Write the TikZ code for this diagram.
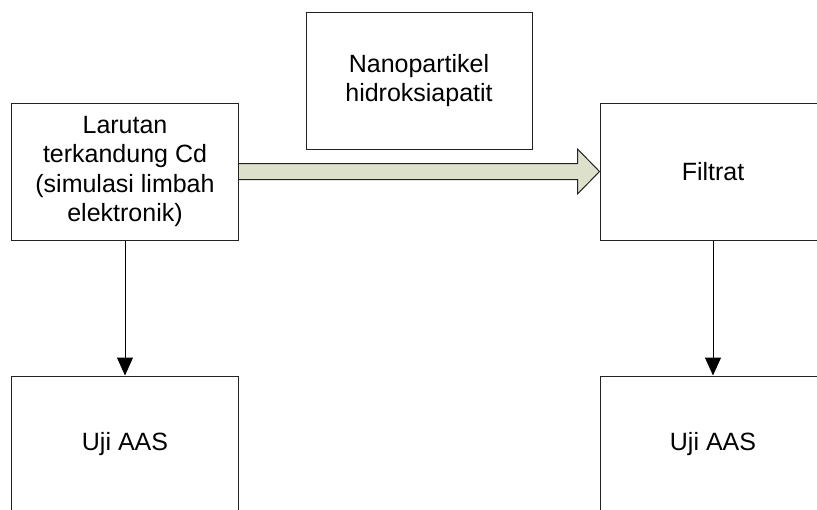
\documentclass[tikz,border=0pt]{standalone}
\usepackage{fontspec}
\setmainfont{Liberation Sans}
\usetikzlibrary{calc,arrows.meta}
\definecolor{arrowfill}{HTML}{DDE1CB}
\definecolor{edge}{HTML}{222222}
\begin{document}
\begin{tikzpicture}[x=1pt,y=-1pt,
  box/.style={draw=edge,line width=1pt,fill=white,align=center,inner sep=0pt,
    font=\fontsize{25}{29.5}\selectfont},
  down/.style={draw=black,line width=1pt,-{Triangle[width=16pt,length=18pt]}},
  fatarrow/.style={draw=edge,line width=1pt,fill=arrowfill}]
\useasboundingbox (0,0) rectangle (817,509);
\clip (0,0) rectangle (817,509);
\node[box,minimum width=227pt,minimum height=137pt] (src) at (125,171.5)
  {Larutan\\terkandung Cd\\(simulasi limbah\\elektronik)};
\node[box,minimum width=226pt,minimum height=137pt] (nano) at (419,80.5)
  {Nanopartikel\\hidroksiapatit};
\node[box,minimum width=226pt,minimum height=137pt] (filt) at (713,171.5) {Filtrat};
\node[box,minimum width=227pt,minimum height=137pt] (aas1) at (125,444.5) {Uji AAS};
\node[box,minimum width=226pt,minimum height=137pt] (aas2) at (713,444.5) {Uji AAS};
\fill[arrowfill] ($(src.east)+(0,-8)$) -- ($(filt.west)+(-22,-8)$) -- ($(filt.west)+(-22,-22.5)$)
  -- (filt.west) -- ($(filt.west)+(-22,22.5)$) -- ($(filt.west)+(-22,8)$) -- ($(src.east)+(0,8)$) -- cycle;
\draw[fatarrow,fill=none] ($(src.east)+(0,-8)$) -- ($(filt.west)+(-22,-8)$) -- ($(filt.west)+(-22,-22.5)$)
  -- (filt.west) -- ($(filt.west)+(-22,22.5)$) -- ($(filt.west)+(-22,8)$) -- ($(src.east)+(0,8)$);
\draw[down] (src.south) -- (aas1.north);
\draw[down] (filt.south) -- (aas2.north);
\end{tikzpicture}
\end{document}
